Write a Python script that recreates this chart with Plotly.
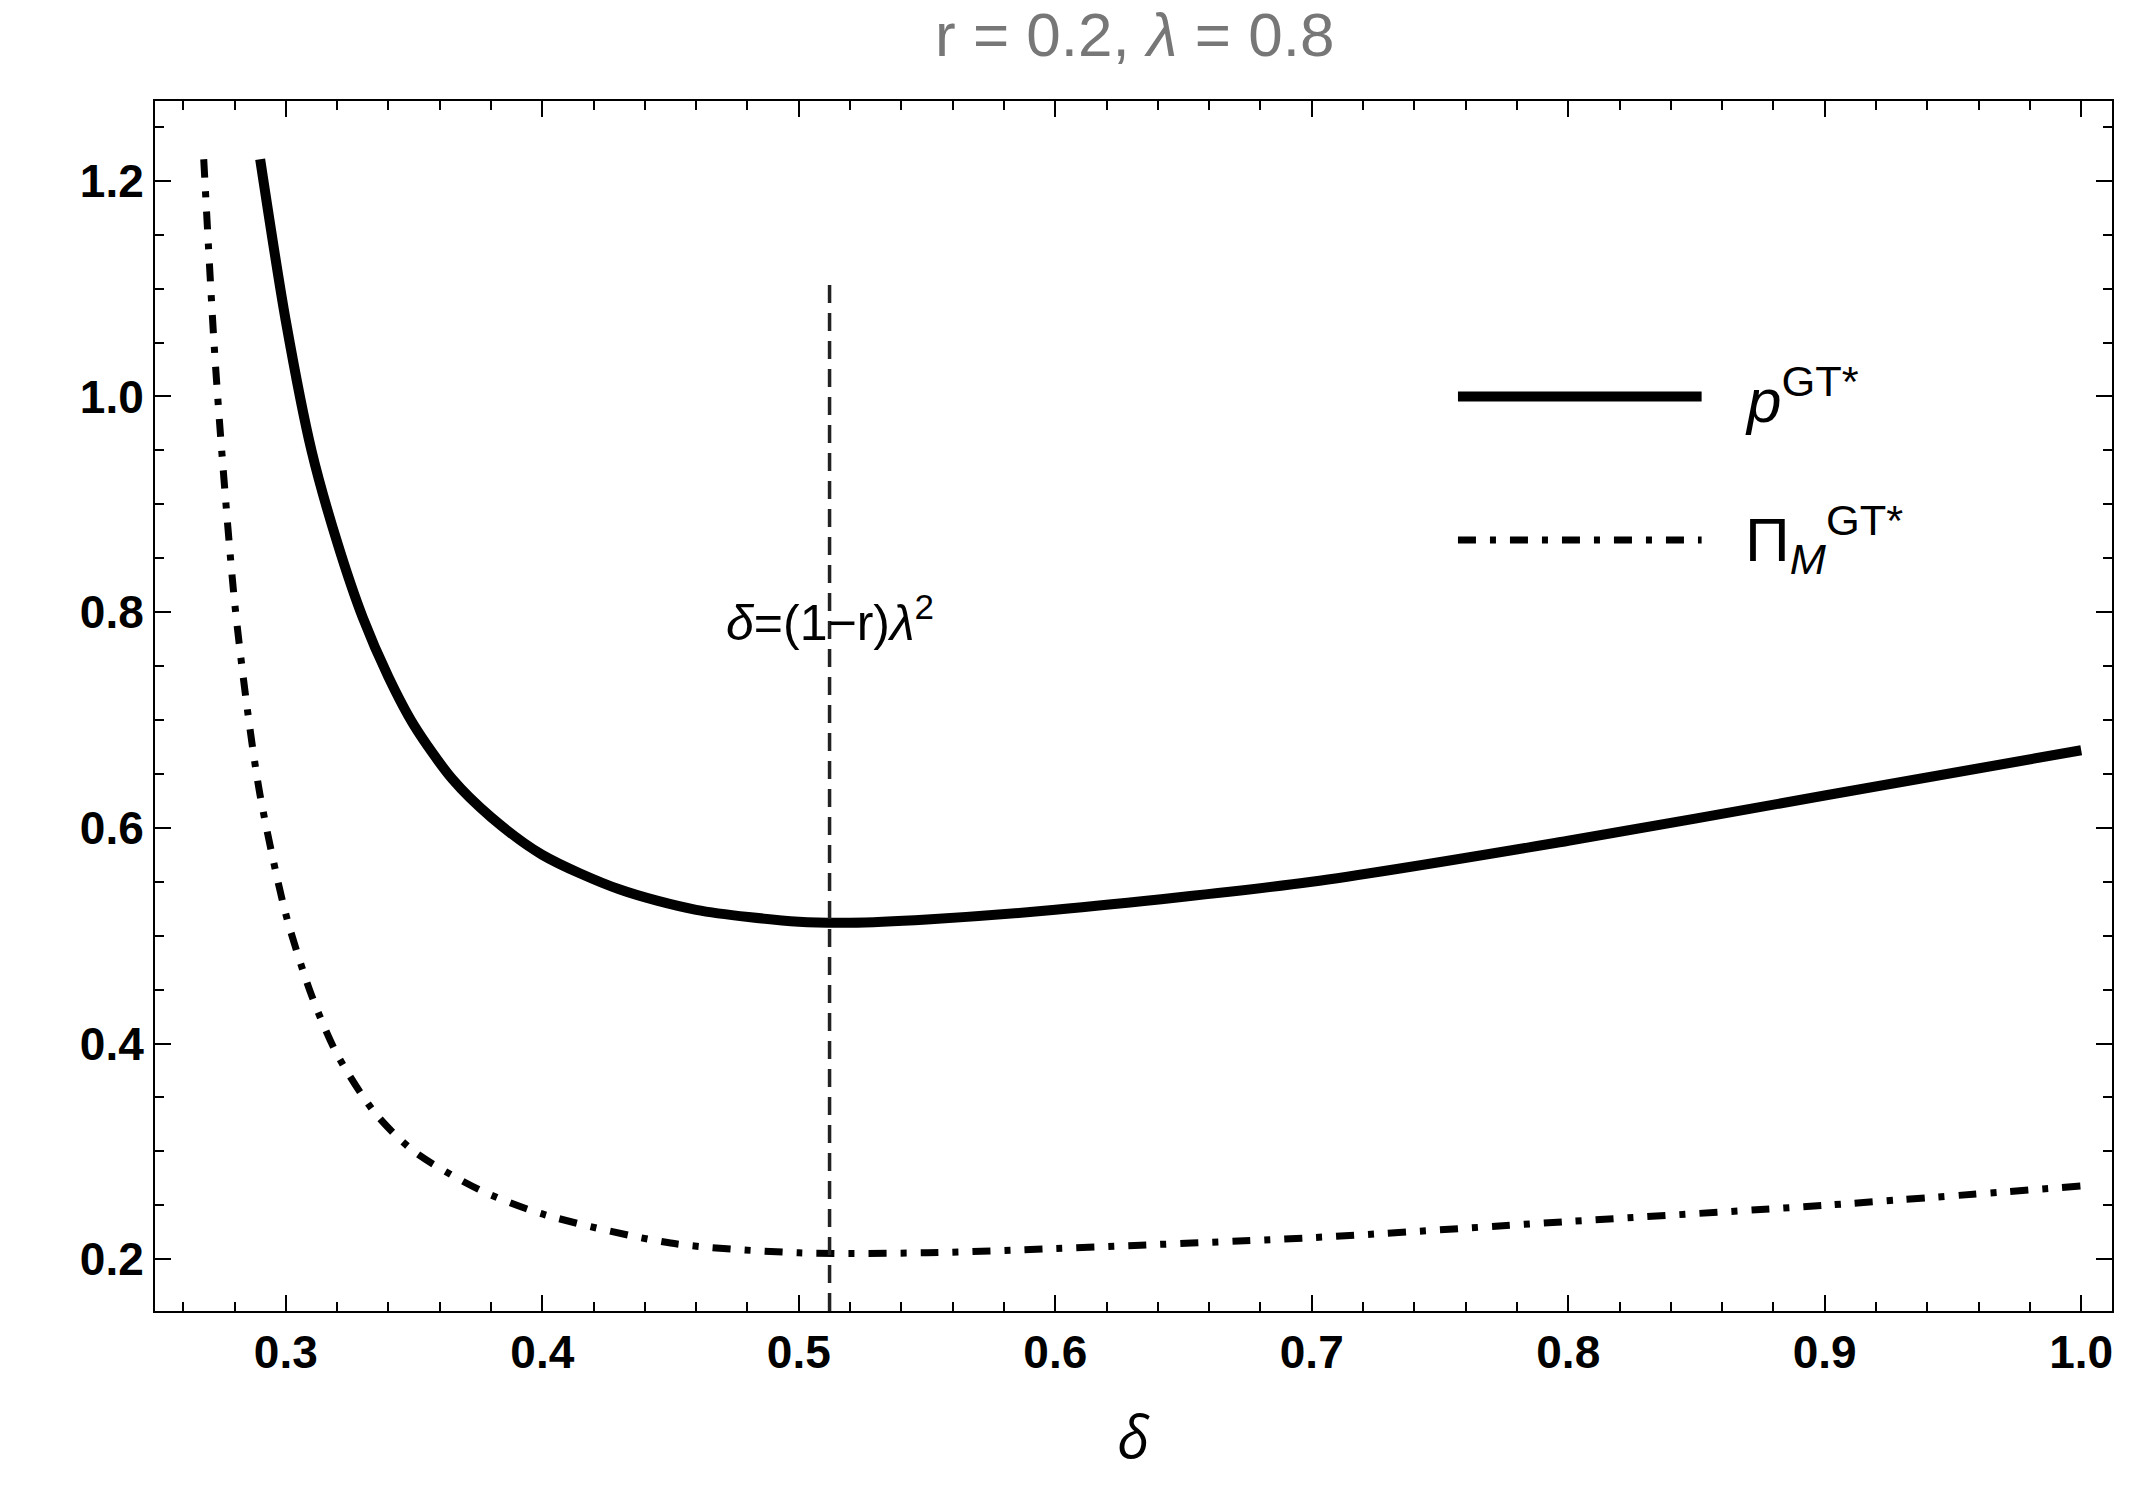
import plotly.graph_objects as go

delta_p = [0.29,0.30,0.31,0.32,0.33,0.34,0.35,0.365,0.38,0.40,0.43,0.46,0.50,0.52,0.55,0.60,0.70,0.80,0.90,1.00]
p_gt = [1.22,1.07,0.95,0.865,0.795,0.74,0.695,0.645,0.61,0.575,0.543,0.524,0.513,0.512,0.515,0.524,0.55,0.588,0.63,0.672]
delta_pi = [0.268,0.272,0.275,0.28,0.285,0.29,0.30,0.31,0.32,0.335,0.35,0.375,0.40,0.45,0.50,0.55,0.60,0.70,0.80,0.90,1.00]
pi_gt = [1.22,1.05,0.95,0.81,0.71,0.63,0.52,0.445,0.39,0.335,0.30,0.265,0.242,0.215,0.206,0.206,0.21,0.22,0.235,0.25,0.268]
delta_line = 0.512
xticks = [0.3,0.4,0.5,0.6,0.7,0.8,0.9,1.0]
yticks = [0.2,0.4,0.6,0.8,1.0,1.2]

fig = go.Figure()
fig.add_trace(go.Scatter(x=delta_p, y=p_gt, mode="lines", line=dict(color="black", width=10, shape="spline", smoothing=0.8), showlegend=False))
fig.add_trace(go.Scatter(x=delta_pi, y=pi_gt, mode="lines", line=dict(color="black", width=7, dash="18px,14px,6px,14px", shape="spline", smoothing=0.8), showlegend=False))
fig.add_trace(go.Scatter(x=[delta_line, delta_line], y=[0.152, 1.11], mode="lines", line=dict(color="#222", width=3.5, dash="18px,10px"), showlegend=False))
# legend samples
fig.add_trace(go.Scatter(x=[0.757, 0.852], y=[1.0, 1.0], mode="lines", line=dict(color="black", width=10), showlegend=False))
fig.add_trace(go.Scatter(x=[0.757, 0.852], y=[0.867, 0.867], mode="lines", line=dict(color="black", width=7, dash="18px,14px,6px,14px"), showlegend=False))

fig.add_annotation(x=0.868, y=1.0, xanchor="left", showarrow=False, text="<i>p</i><sup>GT*</sup>", font=dict(size=62, color="black", family="Liberation Sans"))
fig.add_annotation(x=0.868, y=0.867, xanchor="left", showarrow=False, text="Π<sub><i>M</i></sub><sup>GT*</sup>", font=dict(size=62, color="black", family="Liberation Sans"))
fig.add_annotation(x=delta_line, y=0.794, showarrow=False, text="<i>δ</i>=(1−r)<i>λ</i><sup>2</sup>", font=dict(size=50, color="black", family="Liberation Sans"))

axis_common = dict(showgrid=False, zeroline=False, showline=True, linecolor="black", linewidth=2, mirror="allticks",
                   ticks="inside", ticklen=16, tickwidth=2, tickcolor="black",
                   minor=dict(ticks="inside", ticklen=9, tickwidth=1.5, tickcolor="black"),
                   tickfont=dict(size=46, family="Liberation Sans", color="black", weight="bold"))
fig.update_xaxes(range=[0.249, 1.012], tickvals=xticks, ticktext=[f"{v:.1f}" for v in xticks],
                 minor_dtick=0.02, title=dict(text="<i>δ</i>", standoff=40, font=dict(size=58, color="black")), **axis_common)
fig.update_yaxes(range=[0.152, 1.274], tickvals=yticks, ticktext=[f"{v:.1f}" for v in yticks],
                 minor_dtick=0.05, **axis_common)
fig.update_layout(width=2138, height=1511, plot_bgcolor="white", paper_bgcolor="white",
                  margin=dict(l=147, r=34, t=93, b=208),
                  title=dict(text="r = 0.2, <i>λ</i> = 0.8", x=0.527, y=0.997, xanchor="center", yanchor="top",
                             font=dict(size=62, color="#777", family="Liberation Sans")))
fig.write_html("out.html")
